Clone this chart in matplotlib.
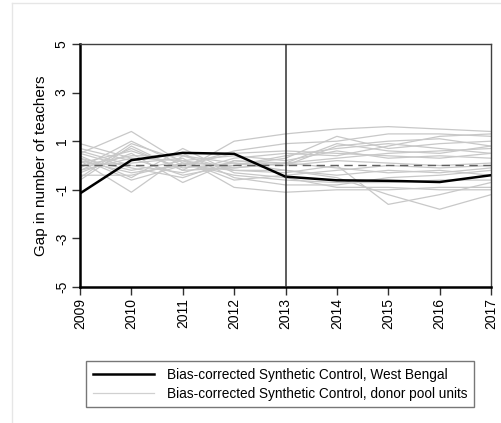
import matplotlib
matplotlib.use("Agg")
import matplotlib.pyplot as plt
from matplotlib.lines import Line2D

years = [2009, 2010, 2011, 2012, 2013, 2014, 2015, 2016, 2017]
west_bengal = [-1.15, 0.22, 0.52, 0.48, -0.46, -0.61, -0.63, -0.68, -0.40]
zero_line = [0, 0, 0, 0, 0, 0, 0, 0, 0]
donors = [
    [0.9, 0.3, 0.2, -0.1, 0.1, 0.3, 0.5, 0.6, 0.7],
    [0.5, 1.4, 0.1, 0.0, 0.3, 1.2, 0.7, 0.9, 1.0],
    [-0.6, 0.8, -0.2, 1.0, 1.3, 1.5, 1.6, 1.5, 1.4],
    [0.2, -1.1, 0.4, 0.1, -0.2, -0.5, -1.2, -1.8, -1.2],
    [-0.3, 0.5, -0.7, 0.2, 0.0, 0.8, 1.0, 1.1, 0.8],
    [0.4, -0.5, 0.7, -0.3, -0.5, -0.9, -0.9, -1.0, -1.0],
    [0.0, 0.1, 0.3, -0.9, -1.1, -1.0, -1.0, -0.9, -0.9],
    [0.6, 0.0, -0.3, 0.3, 0.5, 0.4, 0.8, 1.2, 1.3],
    [-0.1, 1.0, 0.0, -0.2, -0.3, 0.0, -1.6, -1.2, -0.7],
    [0.3, -0.2, 0.2, 0.4, 0.2, 0.6, 0.3, 0.4, 0.3],
    [-0.4, -0.4, 0.1, -0.4, -0.6, -0.7, -0.7, -0.6, -0.6],
    [0.1, 0.6, -0.1, 0.1, 0.0, 0.2, 0.1, 0.0, 0.1],
    [0.7, 0.2, 0.5, -0.5, -0.8, -0.8, -0.5, -0.4, -0.2],
    [-0.2, 0.3, -0.4, 0.0, 0.4, 0.7, 0.9, 0.7, 0.5],
    [0.2, -0.3, 0.0, 0.6, 0.9, 1.0, 1.3, 1.3, 1.2],
    [-0.5, 0.9, 0.2, -0.6, -0.4, -0.2, 0.0, -0.1, 0.0],
    [0.5, -0.1, -0.5, 0.2, 0.1, -0.1, -0.3, -0.2, -0.4],
    [0.0, 0.4, 0.4, -0.2, -0.2, -0.4, -0.2, -0.3, -0.1],
    [0.3, -0.6, 0.0, 0.5, 0.6, 0.5, 0.4, 0.3, 0.5],
    [-0.2, 0.7, -0.2, -0.1, 0.1, 0.9, 0.6, 0.5, 0.8],
]
yticks = [-5, -3, -1, 1, 3, 5]
treat_year = 2013

plt.rcParams['font.family'] = ['Liberation Sans', 'DejaVu Sans']

fig = plt.figure(figsize=(5.02, 4.23), dpi=100)
ax = fig.add_axes([80/502, 1-287/423, (491-80)/502, (287-44)/423])

for d in donors:
    ax.plot(years, d, color='#c8c8c8', lw=0.9, zorder=1)
ax.plot(years, zero_line, color='#606060', lw=1.0, ls=(0, (6, 4)), zorder=2)
ax.plot(years, west_bengal, color='black', lw=1.8, zorder=3)
ax.axvline(treat_year, color='#303030', lw=1.1, zorder=4)

ax.set_xlim(years[0], years[-1])
ax.set_ylim(-5, 5)
ax.set_xticks(years)
ax.set_xticklabels([str(y) for y in years], rotation=90)
ax.set_yticks(yticks)
ax.set_yticklabels([str(v) for v in yticks], rotation=90, va='center')
ax.tick_params(axis='both', length=6, width=1, labelsize=10, color='#303030', pad=2)
ax.set_ylabel('Gap in number of teachers', fontsize=11, labelpad=5)

for s in ['left', 'bottom']:
    ax.spines[s].set_linewidth(1.8)
    ax.spines[s].set_color('black')
for s in ['top', 'right']:
    ax.spines[s].set_linewidth(1.0)
    ax.spines[s].set_color('#404040')

handles = [Line2D([], [], color='black', lw=1.8),
           Line2D([], [], color='#d0d0d0', lw=0.9)]
labels = ['Bias-corrected Synthetic Control, West Bengal',
          'Bias-corrected Synthetic Control, donor pool units']
leg = fig.legend(handles, labels, loc='upper left',
                 bbox_to_anchor=(86/502, 1-361/423),
                 fontsize=9.8, frameon=True, fancybox=False, handlelength=4.5,
                 borderpad=0.5, labelspacing=0.35, handletextpad=0.95,
                 borderaxespad=0)
leg.get_frame().set_edgecolor('#555555')
leg.get_frame().set_linewidth(1.0)

# faint outer border of the graph region
fig.add_artist(Line2D([12/502, 12/502], [0, 1-3/423], color='#e6e6e6', lw=1))
fig.add_artist(Line2D([12/502, 1], [1-3/423, 1-3/423], color='#e6e6e6', lw=1))

fig.savefig('out.png', dpi=100)
